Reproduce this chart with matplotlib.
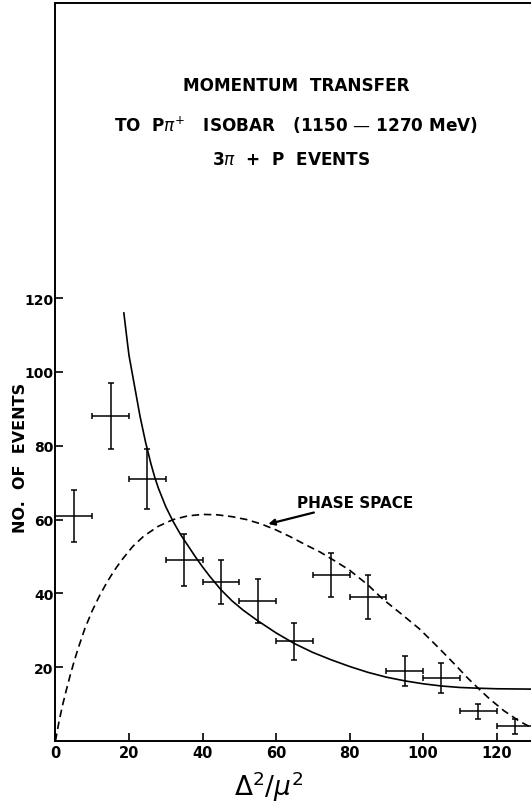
import numpy as np
import matplotlib
matplotlib.use("Agg")
import matplotlib.pyplot as plt

plt.rcParams['font.family'] = ['DejaVu Sans']
plt.rcParams['mathtext.fontset'] = 'dejavusans'

# measured bins: centre, count, error (bin width 10)
x_bin = [5, 15, 25, 35, 45, 55, 65, 75, 85, 95, 105, 115, 125]
n_ev = [61, 88, 71, 49, 43, 38, 27, 45, 39, 19, 17, 8, 4]
err_ev = [7, 9, 8, 7, 6, 6, 5, 6, 6, 4, 4, 2, 2]
half_w = 5

# fitted curve (solid)
x_fit = [18.6, 19.5, 20, 21, 22, 23, 24.5, 26, 27, 28, 30, 32, 34, 36, 38, 40, 42, 45,
         48, 51, 55, 60, 65, 70, 75, 80, 85, 90, 95, 100, 105, 110, 115, 120, 125, 130, 140]
y_fit = [116, 108.5, 104.5, 99, 93.5, 88, 81, 75, 71.5, 68.5, 63.5, 59.5, 56, 53, 50, 47.2,
         44.6, 41, 38, 35.5, 32.6, 29.3, 26.4, 24, 22, 20.2, 18.6, 17.3, 16.3, 15.5, 14.9,
         14.5, 14.3, 14.15, 14.1, 14.05, 14]

# phase space curve (dashed)
x_ps = [0, 1, 2, 3, 4, 5, 6, 8, 10, 12, 14, 16, 18, 21, 24, 28, 32, 36, 40, 44, 48, 52,
        56, 60, 64, 68, 72, 76, 80, 85, 89, 94, 99, 104, 109, 112, 115, 118, 122, 126, 130, 135]
y_ps = [0, 5.5, 10, 14, 17.8, 21.3, 24.6, 30.5, 35.3, 39.4, 43, 46.2, 49, 52.7, 55.5, 58.2,
        60, 61, 61.4, 61.3, 60.8, 60, 58.8, 57.2, 55.3, 53.2, 51.2, 48.8, 46.3, 42.3, 38.5,
        34.5, 30.4, 25.5, 20.4, 17.2, 14.3, 11.5, 8.2, 5.5, 3.3, 1.2]

fig = plt.figure(figsize=(5.31, 8.03), dpi=100)
ax = fig.add_axes([0.1045, 0.076, 0.969, 0.919])

ax.plot(x_fit, y_fit, color='black', lw=1.2)
ax.plot(x_ps, y_ps, color='black', lw=1.2, linestyle=(0, (4.5, 2.8)))
ax.errorbar(x_bin, n_ev, xerr=half_w, yerr=err_ev, fmt='none', ecolor='black',
            elinewidth=1.1, capsize=2.5, capthick=1.1)

ax.set_xlim(0, 140)
ax.set_ylim(0, 200)
ax.set_xticks([0, 20, 40, 60, 80, 100, 120])
ax.set_yticks([20, 40, 60, 80, 100, 120])
ax.tick_params(direction='in', length=6, width=1.2, labelsize=10.5, pad=3)
ax.tick_params(axis='y', labelsize=10, pad=1.5)
for lab in ax.get_xticklabels() + ax.get_yticklabels():
    lab.set_fontweight('bold')
for s in ['left', 'bottom', 'top']:
    ax.spines[s].set_linewidth(1.4)
ax.spines['right'].set_visible(False)

ax.text(58, -0.061, r'$\Delta^2/\mu^2$', transform=ax.get_xaxis_transform(),
        ha='center', va='center', fontsize=19)
ax.set_ylabel('NO.  OF  EVENTS', fontsize=11.5, fontweight='bold')
ax.yaxis.set_label_coords(-0.053, 0.385)

# title block inside the frame
ax.text(65.5, 177.7, 'MOMENTUM  TRANSFER', ha='center', va='center',
        fontsize=12.2, fontweight='bold')
ax.text(65.5, 167.2, r'TO  P$\pi^{+}$   ISOBAR   (1150 — 1270 MeV)', ha='center', va='center',
        fontsize=12.2, fontweight='bold')
ax.text(64, 157.7, r'3$\pi$  +  P  EVENTS', ha='center', va='center',
        fontsize=12.2, fontweight='bold')

ax.annotate('PHASE SPACE', xy=(57.9, 58.8), xytext=(65.6, 64.7),
            fontsize=11, fontweight='bold', va='center', ha='left',
            arrowprops=dict(arrowstyle='-|>', color='black', lw=1.6,
                            shrinkA=0, shrinkB=0, mutation_scale=9))

fig.savefig('out.png', dpi=100)
